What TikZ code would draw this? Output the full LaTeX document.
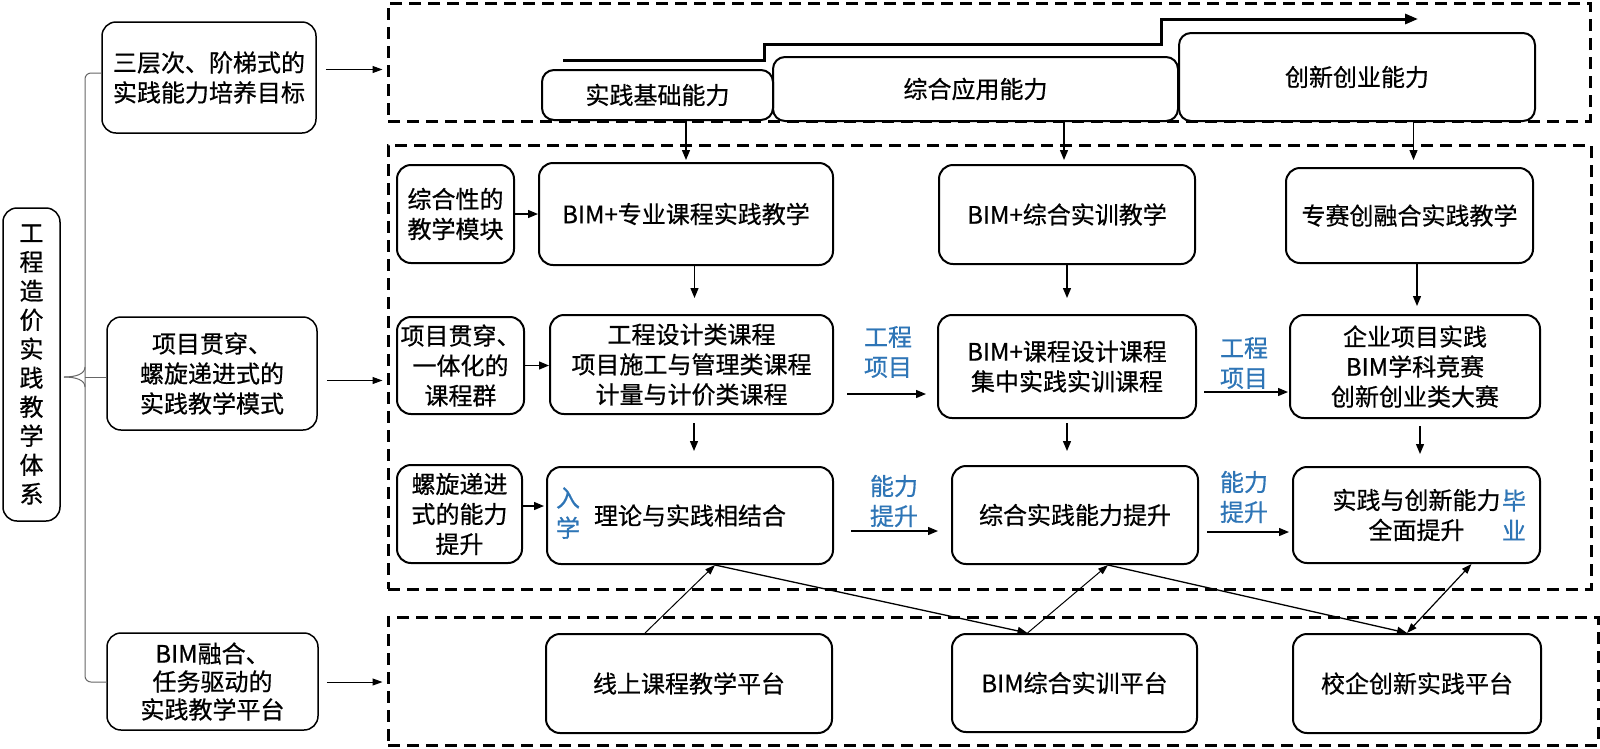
\documentclass[tikz,border=0pt]{standalone}
\usepackage{fontspec}
\setmainfont{Noto Sans CJK SC}[UprightFeatures={FakeBold=0.6}]
\usetikzlibrary{arrows.meta,calc}
\definecolor{lblue}{RGB}{46,117,182}
\begin{document}
\begin{tikzpicture}[x=1pt,y=-1pt,
  every node/.style={inner sep=0pt, align=center, font=\fontsize{24}{30}\selectfont},
  box/.style={draw, fill=white, line width=2pt, rounded corners=14pt},
  tbox/.style={draw, fill=white, line width=2pt, rounded corners=12pt},
  lbox/.style={draw, fill=white, line width=1.5pt, rounded corners=14pt},
  dbox/.style={draw, line width=3pt, dash pattern=on 12pt off 7pt},
  arr/.style={line width=1.3pt, -{Triangle[length=10pt,width=8pt]}},
  tarr/.style={line width=1pt, -{Triangle[length=10pt,width=7pt]}},
  darr/.style={line width=1.2pt, {Triangle[length=10pt,width=7pt]}-{Triangle[length=10pt,width=7pt]}},
  lab/.style={text=lblue},
  brc/.style={line width=1pt, draw=black!60},
]
\useasboundingbox (0,0) rectangle (1600,748);

% dashed containers
\node[dbox, minimum width=1202, minimum height=118] (topbox) at (989,62) {};
\node[dbox, minimum width=1203, minimum height=444] (midbox) at (989.5,367) {};
\node[dbox, minimum width=1210, minimum height=128] (botbox) at (993,681) {};

% left column
\node[lbox, minimum width=57, minimum height=313, font=\fontsize{24}{29}\selectfont] (sys) at (31.5,364.5) {工\\程\\造\\价\\实\\践\\教\\学\\体\\系};
\node[lbox, minimum width=214, minimum height=111] (goal) at (209,77.5) {三层次、阶梯式的\\实践能力培养目标};
\node[lbox, minimum width=210, minimum height=113] (mode) at (212,373.5) {项目贯穿、\\螺旋递进式的\\实践教学模式};
\node[lbox, minimum width=211, minimum height=97, font=\fontsize{24}{28}\selectfont] (plat) at (212.5,681.5) {BIM融合、\\任务驱动的\\实践教学平台};

% brace
\coordinate (b1) at (101,73);
\coordinate (b2) at (85,73);
\coordinate (b3) at (85,682);
\coordinate (b4) at (107,682);
\coordinate (tip) at (64,377);
\draw[brc, rounded corners=6pt] (b1) -- (b2) -- (b3) -- (b4);
\draw[brc] (85,367) .. controls (85,374) and (76,377) .. (tip);
\draw[brc] (85,387) .. controls (85,380) and (76,377) .. (tip);
\draw[brc] (85,377) -- (mode.west |- tip);

% arrows to containers
\draw[tarr] ($(goal.east)+(9,-8)$) -- ($(goal.east -| topbox.west)+(-4,-8)$);
\draw[tarr] ($(mode.east)+(9,7)$) -- ($(mode.east -| midbox.west)+(-4,7)$);
\draw[tarr] ($(plat.east)+(8,0.5)$) -- ($(plat.east -| botbox.west)+(-4,0.5)$);

% top row
\node[tbox, minimum width=405, minimum height=64] (zhyy) at (975.5,89) {综合应用能力};
\node[tbox, minimum width=231, minimum height=50] (sjjc) at (657.5,95) {实践基础能力};
\node[tbox, minimum width=356, minimum height=88] (cxcy) at (1357,77) {创新创业能力};

% staircase
\coordinate (s0) at (563,60);
\coordinate (s1) at (764,60);
\coordinate (s2) at (764,44);
\coordinate (s3) at (1161,44);
\coordinate (s4) at (1161,19);
\coordinate (s5) at (1418,19);
\draw[line width=3pt, -{Triangle[length=13pt,width=10pt]}] (s0) -- (s1) -- (s2) -- (s3) -- (s4) -- (s5);

% row 1
\node[box, minimum width=117, minimum height=98] (zhx) at (455.5,214) {综合性的\\教学模块};
\node[box, minimum width=294, minimum height=102] (bz) at (686,214) {BIM+专业课程实践教学};
\node[box, minimum width=256, minimum height=99] (bzs) at (1067,214.5) {BIM+综合实训教学};
\node[box, minimum width=247, minimum height=95] (zsc) at (1409.5,215.5) {专赛创融合实践教学};

% row 2
\node[box, minimum width=127, minimum height=97] (xmgc) at (460.5,365.5) {项目贯穿、\\一体化的\\课程群};
\node[box, minimum width=283, minimum height=99] (gcsj) at (691.5,364.5) {工程设计类课程\\项目施工与管理类课程\\计量与计价类课程};
\node[box, minimum width=258, minimum height=103] (bkc) at (1067,366.5) {BIM+课程设计课程\\集中实践实训课程};
\node[box, minimum width=250, minimum height=103] (qy) at (1415,366.5) {企业项目实践\\BIM学科竞赛\\创新创业类大赛};

% row 3
\node[box, minimum width=125, minimum height=98] (lx) at (459.5,514) {螺旋递进\\式的能力\\提升};
\node[box, minimum width=286, minimum height=97] (ll) at (690,515.5) {理论与实践相结合};
\node[box, minimum width=246, minimum height=98] (zhsj) at (1075,515) {综合实践能力提升};
\node[box, minimum width=247, minimum height=96] (qm) at (1416.5,515) {实践与创新能力\\全面提升};

% row 4 platforms
\node[box, minimum width=286, minimum height=99] (xs) at (689,683.5) {线上课程教学平台};
\node[box, minimum width=245, minimum height=98] (bp) at (1074.5,683) {BIM综合实训平台};
\node[box, minimum width=248, minimum height=99] (xq) at (1417,683.5) {校企创新实践平台};

% blue labels
\node[lab] (gx1) at (888,352) {工程\\项目};
\node[lab] (gx2) at (1244,363) {工程\\项目};
\node[lab] (nl1) at (894,501) {能力\\提升};
\node[lab] (nl2) at (1244,497) {能力\\提升};
\node[lab] (rx) at (568,513) {入\\学};
\node[lab] (by) at (1514,515) {毕\\业};

% top row -> row 1
\draw[arr] (bz.north |- sjjc.south) -- ($(bz.north)+(0,-2)$);
\draw[arr] ($(bzs.north |- zhyy.south)+(-3,0)$) -- ($(bzs.north)+(-3,-4)$);
\draw[arr] ($(zsc.north |- cxcy.south)+(4,0)$) -- ($(zsc.north)+(4,-7)$);

% row 1
\draw[arr] (zhx.east) -- (bz.west |- zhx.east);
\draw[arr] ($(gcsj.north |- bz.south)+(3,0)$) -- ($(gcsj.north)+(3,-16)$);
\draw[arr] (bkc.north |- bzs.south) -- ($(bkc.north)+(0,-16)$);
\draw[arr] ($(qy.north |- zsc.south)+(2,0)$) -- ($(qy.north)+(2,-8)$);

% row 2
\draw[arr] (xmgc.east) -- (gcsj.west |- xmgc.east);
\draw[arr] ($(gcsj.east)+(13,29.5)$) -- ($(bkc.west)+(-11,27.5)$);
\draw[arr] ($(bkc.east)+(7,25.5)$) -- ($(qy.west)+(-1,25.5)$);
\draw[arr] ($(gcsj.south -| ll.north)+(4,8)$) -- ($(ll.north)+(4,-15)$);
\draw[arr] ($(bkc.south)+(0,4)$) -- ($(bkc.south |- zhsj.north)+(0,-14)$);
\draw[arr] ($(qy.south)+(5,7)$) -- ($(qy.south |- qm.north)+(5,-12)$);

% row 3
\draw[arr] ($(lx.east)+(0,-8)$) -- ($(ll.west |- lx.east)+(-2,-8)$);
\draw[arr] ($(ll.east)+(17,15.5)$) -- ($(zhsj.west)+(-13,16)$);
\draw[arr] ($(zhsj.east)+(8,17)$) -- ($(qm.west)+(-3,17)$);

% platforms <-> row 3
\draw[tarr] ($(xs.north)+(-44,0)$) -- ($(ll.south)+(25,0)$);
\draw[arr] ($(ll.south)+(25,0)$) -- ($(bp.north)+(-47,0)$);
\draw[tarr] ($(bp.north)+(-47,0)$) -- ($(zhsj.south)+(33,0)$);
\draw[arr] ($(zhsj.south)+(33,0)$) -- ($(xq.north)+(-10,0)$);
\draw[darr] ($(xq.north)+(-10,0)$) -- ($(qm.south)+(55,0)$);
\end{tikzpicture}
\end{document}
